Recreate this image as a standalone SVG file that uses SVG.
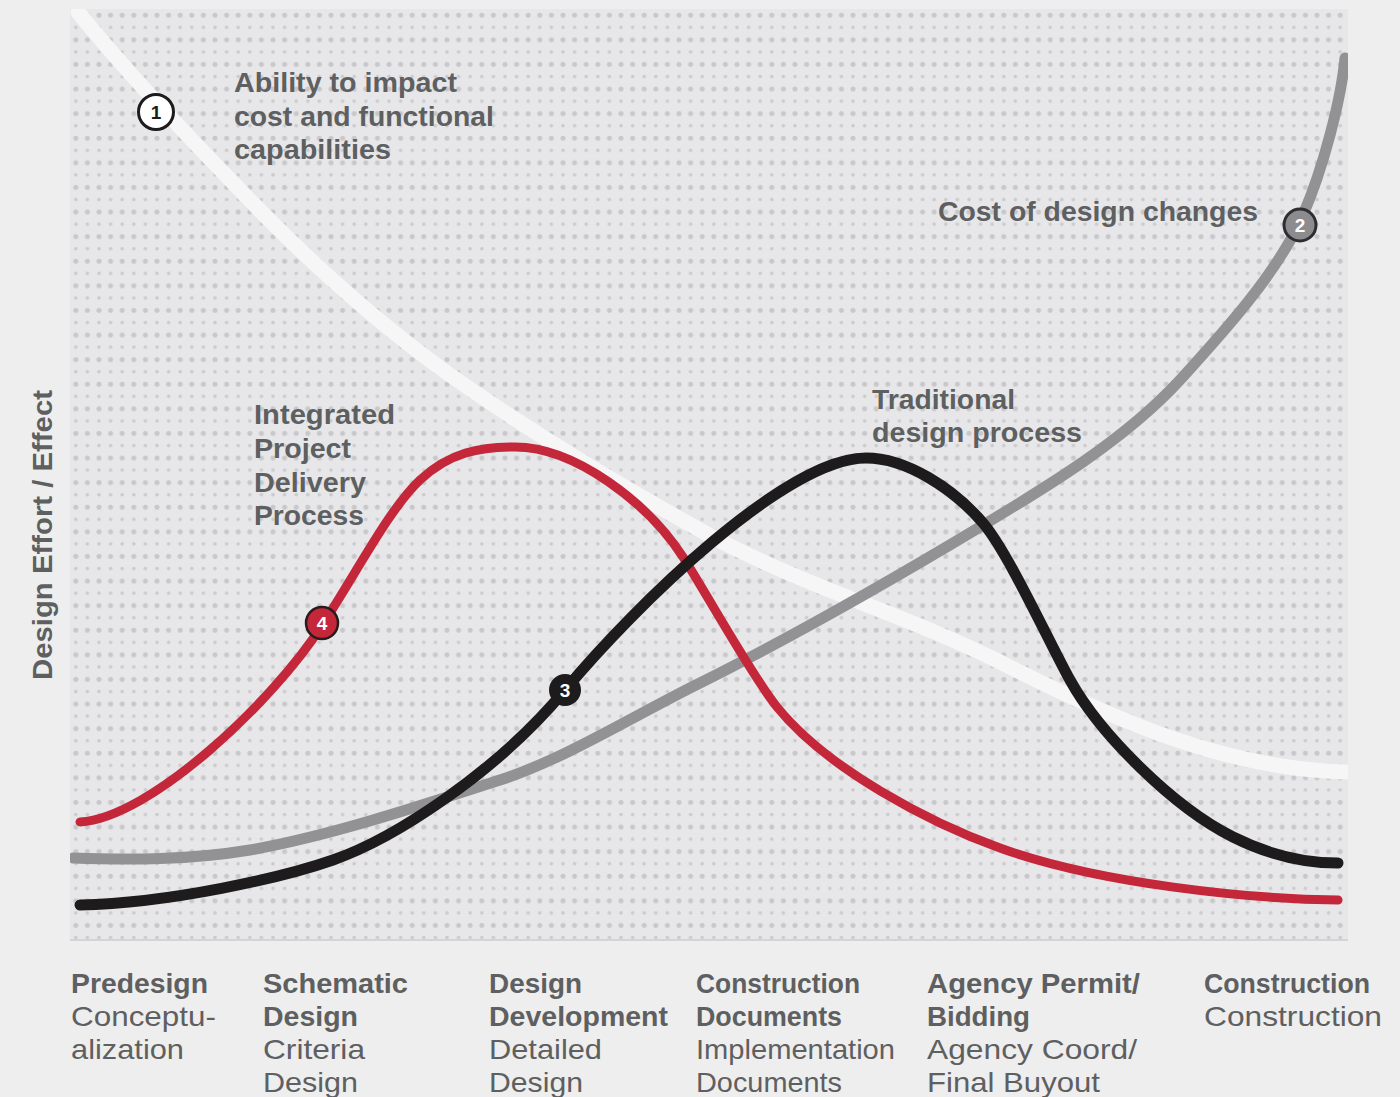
<svg xmlns="http://www.w3.org/2000/svg" width="1400" height="1097" viewBox="0 0 1400 1097">
<defs>
<pattern id="dots" x="70" y="9" width="11.6" height="24.6" patternUnits="userSpaceOnUse">
<circle cx="5.8" cy="6.1" r="2.5" fill="#c8c8cb"/>
<circle cx="5.8" cy="18.4" r="1.8" fill="#cbcbce"/>
</pattern>
<clipPath id="plotclip"><rect x="70" y="9" width="1278" height="931"/></clipPath>
<style>
.t{font-family:"Liberation Sans",Arial,sans-serif;fill:#5e5f61}
.b{font-weight:bold;font-size:28px}
.r{font-size:28px}
.curve{fill:none;stroke-linecap:round;stroke-linejoin:round}
.num{font-family:"Liberation Sans",Arial,sans-serif;font-weight:bold;font-size:19px;text-anchor:middle}
</style>
</defs>
<rect width="1400" height="1097" fill="#eeeeee"/>
<g id="plot">
<rect x="70" y="9" width="1278" height="931" fill="#e7e7e9"/>
<rect x="70" y="9" width="1278" height="931" fill="url(#dots)"/>
<line x1="70" y1="940" x2="1348" y2="940" stroke="#d4d4d6" stroke-width="2"/>
</g>
<g id="curves" clip-path="url(#plotclip)">
<path id="curve1" class="curve" stroke="#f6f6f7" stroke-width="15" d="M78,12 C128,74 185,133 240,190 C310,263 380,325 450,375 C535,435 615,483 700,530 C800,586 900,612 1000,662 C1110,718 1230,773 1360,772"/>
<path id="curve2" class="curve" stroke="#929295" stroke-width="11" d="M73,858 C130,860 190,860 250,850 C330,836 420,806 500,780 C565,759 635,715 700,683 C790,638 890,581 980,527 C1045,488 1125,440 1180,380 C1220,336 1278,273 1303,215 C1323,169 1341,100 1345,58"/>
<path id="curve4" class="curve" stroke="#c4273a" stroke-width="9" d="M80,822 C150,818 273,702 323,624 C358,570 390,508 420,480 C450,452 480,447 515,447 C575,447 648,503 683,557 C708,596 752,676 777,707 C827,769 930,823 1000,848 C1100,884 1250,899 1338,900"/>
<path id="curve3" class="curve" stroke="#1d1b1c" stroke-width="11" d="M80,905 C170,903 283,877.5 333,860 C393,839 495,774 565,690 C635,606 786,458 866,458 C906,458 953,488 983,523 C1008,552 1050,644 1070,680 C1100,734 1173,807 1233,837 C1273,857 1310,863 1338,863"/>
</g>
<g id="marker1">
<circle cx="156" cy="112" r="17.5" fill="#ffffff" stroke="#1d1b1c" stroke-width="3"/>
<text class="num" x="156" y="119" fill="#1d1b1c">1</text>
</g>
<g id="marker2">
<circle cx="1300" cy="225" r="16" fill="#8c8c8f" stroke="#2e2e30" stroke-width="3"/>
<text class="num" x="1300" y="232" fill="#ffffff">2</text>
</g>
<g id="marker3">
<circle cx="565" cy="690" r="16" fill="#1d1b1c"/>
<text class="num" x="565" y="697" fill="#ffffff">3</text>
</g>
<g id="marker4">
<circle cx="322" cy="623" r="16" fill="#c4273a" stroke="#2a1a1c" stroke-width="2.5"/>
<text class="num" x="322" y="630" fill="#ffffff">4</text>
</g>
<g id="label1" class="t b">
<text x="234" y="92" textLength="223" lengthAdjust="spacingAndGlyphs">Ability to impact</text>
<text x="234" y="126" textLength="260" lengthAdjust="spacingAndGlyphs">cost and functional</text>
<text x="234" y="159" textLength="157" lengthAdjust="spacingAndGlyphs">capabilities</text>
</g>
<g id="label2" class="t b">
<text x="938" y="221" textLength="320" lengthAdjust="spacingAndGlyphs">Cost of design changes</text>
</g>
<g id="label4" class="t b">
<text x="254" y="424" textLength="141" lengthAdjust="spacingAndGlyphs">Integrated</text>
<text x="254" y="458" textLength="97" lengthAdjust="spacingAndGlyphs">Project</text>
<text x="254" y="492" textLength="112" lengthAdjust="spacingAndGlyphs">Delivery</text>
<text x="254" y="525" textLength="110" lengthAdjust="spacingAndGlyphs">Process</text>
</g>
<g id="label3" class="t b">
<text x="872" y="409" textLength="143" lengthAdjust="spacingAndGlyphs">Traditional</text>
<text x="872" y="442" textLength="210" lengthAdjust="spacingAndGlyphs">design process</text>
</g>
<g id="yaxis" class="t b">
<text transform="translate(52,535) rotate(-90)" x="0" y="0" text-anchor="middle" textLength="290" lengthAdjust="spacingAndGlyphs">Design Effort / Effect</text>
</g>
<g id="phase1" class="t">
<text class="b" x="71" y="993" textLength="137" lengthAdjust="spacingAndGlyphs">Predesign</text>
<text class="r" x="71" y="1026" textLength="145" lengthAdjust="spacingAndGlyphs">Conceptu-</text>
<text class="r" x="71" y="1059" textLength="113" lengthAdjust="spacingAndGlyphs">alization</text>
</g>
<g id="phase2" class="t">
<text class="b" x="263" y="993" textLength="145" lengthAdjust="spacingAndGlyphs">Schematic</text>
<text class="b" x="263" y="1026" textLength="95" lengthAdjust="spacingAndGlyphs">Design</text>
<text class="r" x="263" y="1059" textLength="102" lengthAdjust="spacingAndGlyphs">Criteria</text>
<text class="r" x="263" y="1092" textLength="95" lengthAdjust="spacingAndGlyphs">Design</text>
</g>
<g id="phase3" class="t">
<text class="b" x="489" y="993" textLength="93" lengthAdjust="spacingAndGlyphs">Design</text>
<text class="b" x="489" y="1026" textLength="179" lengthAdjust="spacingAndGlyphs">Development</text>
<text class="r" x="489" y="1059" textLength="113" lengthAdjust="spacingAndGlyphs">Detailed</text>
<text class="r" x="489" y="1092" textLength="94" lengthAdjust="spacingAndGlyphs">Design</text>
</g>
<g id="phase4" class="t">
<text class="b" x="696" y="993" textLength="164" lengthAdjust="spacingAndGlyphs">Construction</text>
<text class="b" x="696" y="1026" textLength="146" lengthAdjust="spacingAndGlyphs">Documents</text>
<text class="r" x="696" y="1059" textLength="199" lengthAdjust="spacingAndGlyphs">Implementation</text>
<text class="r" x="696" y="1092" textLength="146" lengthAdjust="spacingAndGlyphs">Documents</text>
</g>
<g id="phase5" class="t">
<text class="b" x="927" y="993" textLength="213" lengthAdjust="spacingAndGlyphs">Agency Permit/</text>
<text class="b" x="927" y="1026" textLength="103" lengthAdjust="spacingAndGlyphs">Bidding</text>
<text class="r" x="927" y="1059" textLength="210" lengthAdjust="spacingAndGlyphs">Agency Coord/</text>
<text class="r" x="927" y="1092" textLength="173" lengthAdjust="spacingAndGlyphs">Final Buyout</text>
</g>
<g id="phase6" class="t">
<text class="b" x="1204" y="993" textLength="166" lengthAdjust="spacingAndGlyphs">Construction</text>
<text class="r" x="1204" y="1026" textLength="178" lengthAdjust="spacingAndGlyphs">Construction</text>
</g>
</svg>
